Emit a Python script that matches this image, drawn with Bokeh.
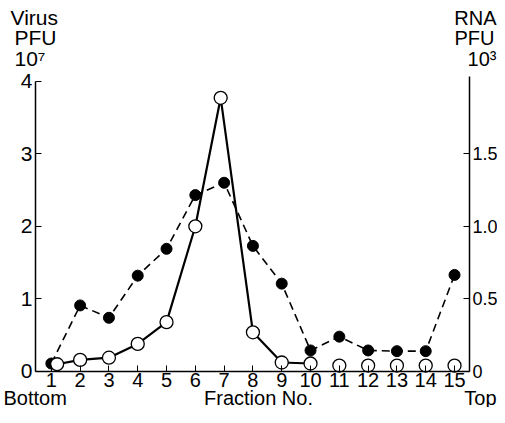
from bokeh.plotting import figure
from bokeh.models import Range1d, LinearAxis, FixedTicker, Label
from bokeh.embed import file_html
from bokeh.resources import INLINE

# ---- data ----
fractions = [1, 2, 3, 4, 5, 6, 7, 8, 9, 10, 11, 12, 13, 14, 15]
virus_pfu = [0.11, 0.91, 0.74, 1.32, 1.69, 2.43, 2.60, 1.73, 1.21, 0.29, 0.48, 0.29, 0.28, 0.28, 1.33]  # x10^7, left axis
rna_x = [1.2, 2, 3, 4, 5, 6, 6.88, 8, 9, 10, 11, 12, 13, 14, 15]
rna_pfu = [0.05, 0.08, 0.095, 0.19, 0.34, 1.0, 1.885, 0.27, 0.062, 0.055, 0.041, 0.041, 0.041, 0.041, 0.041]  # x10^3, right axis
rna_connected = 10  # solid line joins fractions 1-10
left_ticks = [0, 1, 2, 3, 4]
right_ticks = [0, 0.5, 1.0, 1.5]
right_tick_labels = ["0", "0.5", "1.0", "1.5"]

FONT = "Liberation Sans"
W, H = 497, 407

# axis box in data units
X0, X1 = 0.45, 15.52
Y_TOP = 4.06
# frame fills the whole canvas; the axes are fixed inside it
p = figure(width=W, height=H, output_backend="svg", toolbar_location=None,
           x_range=Range1d(-0.7653, 16.492), y_range=Range1d(-0.4959, 5.1102),
           min_border=0, x_axis_location=None, y_axis_location=None)
p.extra_y_ranges = {"rna": Range1d(-0.4959 / 2, 5.1102 / 2)}
p.grid.visible = False
p.outline_line_color = None
p.background_fill_color = "white"
p.border_fill_color = "white"

def style_axis(ax, size):
    ax.axis_line_color = "black"
    ax.axis_line_width = 1.5
    ax.major_tick_line_color = "black"
    ax.major_tick_line_width = 1
    ax.minor_tick_line_color = None
    ax.major_tick_out = 0
    ax.major_tick_in = 6
    ax.major_label_text_font = FONT
    ax.major_label_text_font_size = size
    ax.major_label_text_color = "black"

xa = LinearAxis(ticker=FixedTicker(ticks=fractions), fixed_location=0, bounds=(X0, X1))
style_axis(xa, "20px")
xa.major_label_standoff = 2
p.add_layout(xa, "below")

ya = LinearAxis(ticker=FixedTicker(ticks=left_ticks), fixed_location=X0, bounds=(0, 4))
style_axis(ya, "21px")
ya.major_label_standoff = 3
p.add_layout(ya, "left")

ra = LinearAxis(y_range_name="rna", ticker=FixedTicker(ticks=right_ticks),
                fixed_location=X1, bounds=(0, Y_TOP / 2))
style_axis(ra, "18px")
ra.major_label_standoff = 3
ra.major_label_overrides = {t: s for t, s in zip(right_ticks, right_tick_labels)}
p.add_layout(ra, "right")

# Virus PFU: filled circles, dashed line
p.line(fractions, virus_pfu, line_color="black", line_width=1.6, line_dash="8 5")
p.scatter(fractions, virus_pfu, size=11, marker="circle", fill_color="black", line_color="black")

# RNA PFU: open circles, solid line
p.line(rna_x[:rna_connected], rna_pfu[:rna_connected], y_range_name="rna",
       line_color="black", line_width=2.2)
p.scatter(rna_x, rna_pfu, y_range_name="rna", size=13, marker="circle",
          fill_color="white", line_color="black", line_width=1.3)

def lab(x, y, text, align="left", size="21px"):
    # screen units: x from the left edge, y up from the bottom edge of the canvas-wide frame
    p.add_layout(Label(x=x, y=y, x_units="screen", y_units="screen", text=text,
                       text_font=FONT, text_font_size=size, text_color="black",
                       text_align=align, text_baseline="alphabetic"))

# headers
lab(10, 390, "Virus")
lab(14, 370, "PFU")
lab(14, 349, "10⁷")
lab(496, 390, "RNA", "right", "20px")
lab(494, 370, "PFU", "right", "20px")
lab(496, 349, "10³", "right", "20px")

# bottom row
lab(3, 10, "Bottom", "left", "20px")
lab(258, 10, "Fraction No.", "center", "20px")
lab(496, 10, "Top", "right", "20px")

open("out.html", "w").write(file_html(p, INLINE))
